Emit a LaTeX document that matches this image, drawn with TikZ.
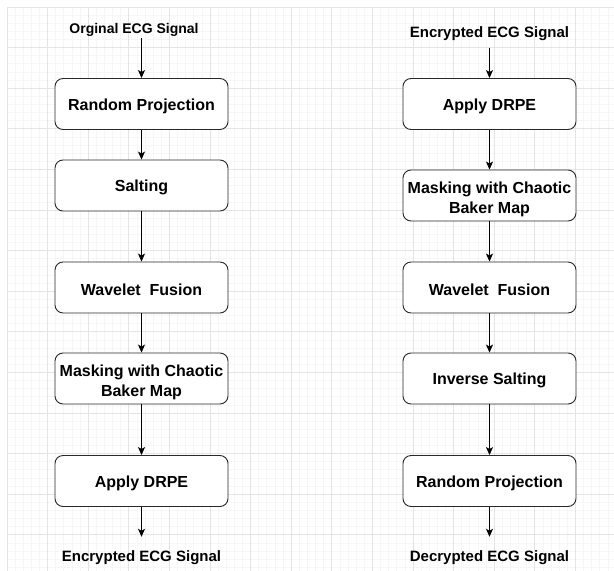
\documentclass[tikz,border=0pt]{standalone}
\usepackage{fontspec}
\setmainfont{Liberation Sans}
\usetikzlibrary{arrows.meta}

\tikzset{
  gridminor/.style={color={rgb,255:red,246;green,246;blue,246}, line width=0.75},
  gridmajor/.style={color={rgb,255:red,228;green,228;blue,228}, line width=0.75},
  stepbox/.style={draw={rgb,255:red,40;green,40;blue,40}, line width=0.9, rounded corners=8,
    fill=white, minimum width=173, minimum height=51, inner sep=0.75pt, align=center,
    text height=16, font=\fontsize{16}{20}\selectfont\bfseries},
  twoline/.style={text height=40},
  sigtext/.style={inner xsep=0.75pt, align=center},
  flow/.style={-{Stealth[length=8,width=7,inset=2]}, line width=0.8, color=black}
}

\begin{document}
\begin{tikzpicture}[x=1pt,y=1pt,yscale=-1,xscale=1]
\useasboundingbox (0,0) rectangle (614,571);
\fill[white] (0,0) rectangle (614,571);

%Grid
\foreach \i in {0,...,74}
	\draw[gridminor] ({7+8.12*\i},7) -- ({7+8.12*\i},571);
\foreach \i in {0,...,69}
	\draw[gridminor] (7,{7+8.12*\i}) -- (614,{7+8.12*\i});
\foreach \i in {0,...,14}
	\draw[gridmajor] ({7+40.6*\i},7) -- ({7+40.6*\i},571);
\foreach \i in {0,...,13}
	\draw[gridmajor] (7,{7+40.6*\i}) -- (614,{7+40.6*\i});

%Shape: Rounded Rectangle (left column)
	\node[stepbox] (randproj) at (141.5,104) {Random Projection};
	\node[stepbox] (salting) at (141.5,185.5) {Salting};
	\node[stepbox] (fusion) at (141.5,287.5) {Wavelet\ \ Fusion};
	\node[stepbox, twoline] (masking) at (141.5,378.5) {Masking with Chaotic\\Baker Map};
	\node[stepbox] (drpe) at (141.5,481) {Apply DRPE};
%Shape: Rounded Rectangle (right column)
	\node[stepbox] (drpeinv) at (489.5,104) {Apply DRPE};
	\node[stepbox, twoline] (maskinginv) at (489.5,195.5) {Masking with Chaotic\\Baker Map};
	\node[stepbox] (fusioninv) at (489.5,287.5) {Wavelet\ \ Fusion};
	\node[stepbox] (saltinginv) at (489.5,378.5) {Inverse Salting};
	\node[stepbox] (randprojinv) at (489.5,481) {Random Projection};

% Text Node
	\node[sigtext, inner ysep=1.5, font=\fontsize{14}{17}\selectfont\bfseries] (orig) at (134,30) {Orginal ECG Signal};
% Text Node
	\node[sigtext, inner ysep=7, font=\fontsize{15}{18}\selectfont\bfseries] (encin) at (489.5,33.5) {Encrypted ECG Signal};
% Text Node
	\node[sigtext, inner ysep=13.5, font=\fontsize{15}{18}\selectfont\bfseries] (encout) at (141.5,557.5) {Encrypted ECG Signal};
% Text Node
	\node[sigtext, inner ysep=13.5, font=\fontsize{15}{18}\selectfont\bfseries] (decout) at (489.5,557.5) {Decrypted ECG Signal};

%Straight Lines
	\draw[flow] (orig.south -| randproj) -- (randproj);
	\draw[flow] (randproj) -- (salting);
	\draw[flow] (salting) -- (fusion);
	\draw[flow] (fusion) -- (masking);
	\draw[flow] (masking) -- (drpe);
	\draw[flow] (drpe) -- (encout);
%Straight Lines
	\draw[flow] (encin) -- (drpeinv);
	\draw[flow] (drpeinv) -- (maskinginv);
	\draw[flow] (maskinginv) -- (fusioninv);
	\draw[flow] (fusioninv) -- (saltinginv);
	\draw[flow] (saltinginv) -- (randprojinv);
	\draw[flow] (randprojinv) -- (decout);

\end{tikzpicture}
\end{document}
